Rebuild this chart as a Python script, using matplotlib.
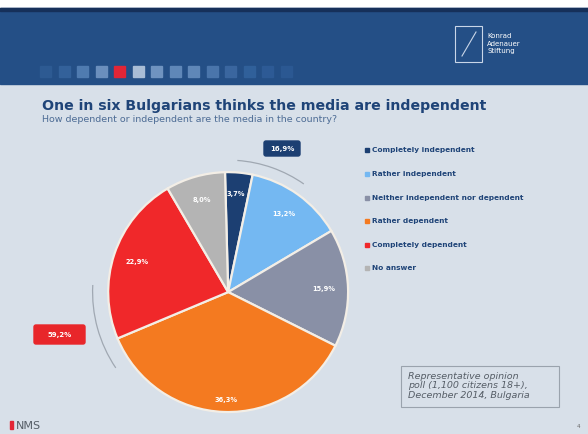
import numpy as np
import matplotlib.pyplot as plt
from matplotlib.patches import Rectangle, FancyBboxPatch, Arc

categories = ["Completely independent", "Rather independent",
              "Neither independent nor dependent", "Rather dependent",
              "Completely dependent", "No answer"]
shares = [3.7, 13.2, 15.9, 36.3, 22.9, 8.0]
colors = ["#1c3f72", "#74b8f2", "#8990a6", "#f47a20", "#f0282a", "#b4b4b4"]
independent_total = "16,9%"
dependent_total = "59,2%"

title = "One in six Bulgarians thinks the media are independent"
subtitle = "How dependent or independent are the media in the country?"
note = "Representative opinion\npoll (1,100 citizens 18+),\nDecember 2014, Bulgaria"

W, H = 588, 434
fig = plt.figure(figsize=(W / 100, H / 100), dpi=100)
fig.patch.set_facecolor("white")

# slide background in pixel coordinates
bg = fig.add_axes([0, 0, 1, 1])
bg.set_xlim(0, W)
bg.set_ylim(H, 0)
bg.axis("off")
bg.add_patch(Rectangle((0, 8), W, H - 8, color="#d8e0e9"))
bg.add_patch(Rectangle((0, 8), W, 76, color="#244f86"))
bg.add_patch(Rectangle((0, 8), W, 3, color="#16305a"))

# row of squares in the banner
sq_cols = ["#2d5a92", "#33619a", "#4f7bb0", "#6b8fbd", "#e32636", "#a9bdd6",
           "#6f93c0", "#5f87b8", "#5f87b8", "#4a75ab", "#3a669f", "#30609a",
           "#2d5a95", "#2b5892"]
for i, c in enumerate(sq_cols):
    bg.add_patch(Rectangle((40 + i * 18.5, 66), 11, 11, color=c))

# foundation logo
bg.add_patch(Rectangle((455, 26), 27, 36, fill=False, ec="#c9d6e8", lw=0.8))
bg.plot([462, 476], [56, 32], color="#c9d6e8", lw=0.8)
bg.text(487, 44, "Konrad\nAdenauer\nStiftung", color="white", fontsize=5,
        va="center", ha="left", linespacing=1.3)

bg.text(42, 106, title, color="#1f4478", fontsize=10.2, fontweight="bold",
        va="center", ha="left")
bg.text(42, 119, subtitle, color="#4d6c95", fontsize=6.8, va="center", ha="left")

# legend
leg_y = [150, 174, 198, 221, 245, 268]
for y, c, name in zip(leg_y, colors, categories):
    bg.add_patch(Rectangle((365, y - 2.5), 4, 4, color=c))
    bg.text(372, y, name, color="#1f4478", fontsize=5.3, fontweight="bold",
            va="center", ha="left")

# survey note
bg.add_patch(Rectangle((401, 366), 158, 41, fill=False, ec="#9aa3ad", lw=0.8))
bg.text(408, 386, note, color="#555d66", fontsize=6.8, style="italic",
        va="center", ha="left", linespacing=1.1)

bg.text(16, 426, "NMS", color="#555d66", fontsize=8, va="center", ha="left")
bg.add_patch(Rectangle((10, 421), 3, 8, color="#e32636"))
bg.text(577, 426, "4", color="#666666", fontsize=4, va="center")

# pie
pax = fig.add_axes([0.388 - 0.408 * 1.35 / 2, 0.327 - 0.553 * 1.35 / 2,
                    0.408 * 1.35, 0.553 * 1.35])

wedges, _, autotexts = pax.pie(
    shares, colors=colors, startangle=91.5, counterclock=False,
    autopct=lambda p: f"{p:.1f}%".replace(".", ","), pctdistance=0.8,
    wedgeprops=dict(edgecolor="#f3eee6", linewidth=1.6),
    textprops=dict(color="white", fontsize=4.8, fontweight="bold"))
autotexts[0].set_position((0.06, 0.82))
autotexts[3].set_position((-0.02, -0.9))
pax.set_xlim(-1.35, 1.35)
pax.set_ylim(-1.35, 1.35)
pax.set_aspect("equal")
pax.axis("off")

# brackets for the grouped totals
pax.add_patch(Arc((0, 0), 2.2, 2.2, theta1=55, theta2=86,
                  color="#a0a8b2", lw=0.9, clip_on=False))
pax.add_patch(Arc((0, 0), 2.26, 2.26, theta1=177, theta2=214,
                  color="#a0a8b2", lw=0.9, clip_on=False))

bg.add_patch(FancyBboxPatch((264, 141), 36, 15, boxstyle="round,pad=0,rounding_size=2",
                            color="#1c3f72", zorder=5))
bg.text(282, 148.5, independent_total, color="white", fontsize=5,
        fontweight="bold", ha="center", va="center", zorder=6)
bg.add_patch(FancyBboxPatch((34, 325), 51, 19, boxstyle="round,pad=0,rounding_size=2",
                            color="#e8262a", zorder=5))
bg.text(59.5, 334.5, dependent_total, color="white", fontsize=5,
        fontweight="bold", ha="center", va="center", zorder=6)

fig.savefig("out.png", dpi=100)
